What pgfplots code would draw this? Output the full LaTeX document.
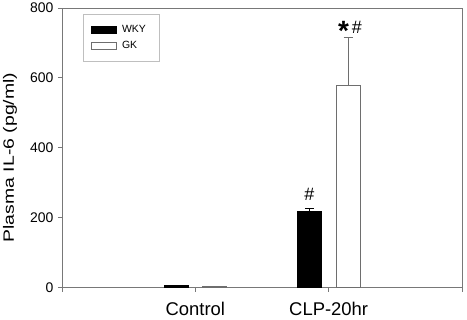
\documentclass[border=0pt]{standalone}
\usepackage{graphicx}
\usepackage{pgfplots}
\pgfplotsset{compat=1.18}
\usepackage{fontspec}
\setmainfont{Liberation Sans}
\definecolor{axgray}{RGB}{120,120,120}
\definecolor{gkgray}{RGB}{110,110,110}
\begin{document}
\begin{tikzpicture}
\path[use as bounding box] (-62bp,-32bp) rectangle (405bp,287.5bp);
\begin{axis}[
  scale only axis,
  width=400bp, height=279.5bp,
  xmin=-1, xmax=2, ymin=0, ymax=800,
  xtick={-1,0,1,2}, xticklabels={,Control,CLP-20hr,},
  ytick={0,200,400,600,800},
  xtick pos=bottom, ytick pos=left,
  tick align=outside,
  major tick length=4bp,
  axis line style={axgray, line width=0.8bp},
  every tick/.style={axgray, line width=0.8bp},
  /pgf/number format/assume math mode=true,
  yticklabel style={font=\fontsize{14}{16}\selectfont, xshift=-1bp},
  xticklabel style={font=\fontsize{18.5}{20}\selectfont, yshift=-7bp},
  ylabel={\scalebox{1.3}[1]{Plasma IL-6 (pg/ml)}},
  ylabel style={at={(axis description cs:-0.13,0.465)}, anchor=center,
    font=\fontsize{15}{17}\selectfont},
  legend style={draw=gray!50, fill=white, at={(0.0525,0.977)}, anchor=north west,
    font=\fontsize{10.5}{12}\selectfont, inner xsep=8bp, inner ysep=9bp, row sep=3bp,
    legend cell align=left, nodes={inner xsep=5bp}},
  legend image code/.code={\draw[#1] (0bp,-3.5bp) rectangle (25bp,3.5bp);},
]
\addplot[ybar, bar width=0.18, bar shift=0pt, fill=black, draw=black, line width=0.6bp,
  error bars/.cd, y dir=plus, y explicit,
  error bar style={black, line width=0.8bp},
  error mark options={rotate=90, mark size=4.5bp, black, line width=0.8bp}]
  coordinates {(-0.145,5) +- (0,1) (0.855,218) +- (0,8)};
\addlegendentry{WKY}
\addplot[ybar, bar width=0.18, bar shift=0pt, fill=white, draw=gkgray, line width=0.8bp,
  error bars/.cd, y dir=plus, y explicit,
  error bar style={gkgray, line width=0.8bp},
  error mark options={rotate=90, mark size=4.5bp, gkgray, line width=0.8bp}]
  coordinates {(0.145,3) +- (0,1) (1.145,578) +- (0,138)};
\addlegendentry{GK}
\node[font=\fontsize{18}{18}\selectfont] at (axis cs:0.855,266) {\#};
\node[font=\fontsize{18}{18}\selectfont, anchor=base] at (axis cs:1.16,727) {{\fontsize{28}{28}\selectfont\bfseries\raisebox{-0.24em}{*}}\,\#};
\end{axis}
\end{tikzpicture}
\end{document}
